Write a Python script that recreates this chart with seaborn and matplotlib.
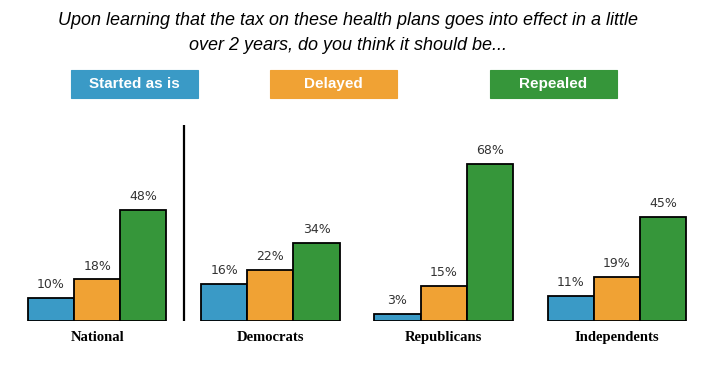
import numpy as np
import pandas as pd
import matplotlib
matplotlib.use("Agg")
import matplotlib.pyplot as plt
from matplotlib.patches import Rectangle
import seaborn as sns

# Data
groups = ["National", "Democrats", "Republicans", "Independents"]
responses = ["Started as is", "Delayed", "Repealed"]
started = [10, 16, 3, 11]
delayed = [18, 22, 15, 19]
repealed = [48, 34, 68, 45]

colors = ["#3a9ac6", "#f0a234", "#36963a"]
title = ("Upon learning that the tax on these health plans goes into effect in a little\n"
         "over 2 years, do you think it should be...")

rows = []
for resp, vals in zip(responses, [started, delayed, repealed]):
    for g, v in zip(groups, vals):
        rows.append({"group": g, "response": resp, "value": v})
df = pd.DataFrame(rows)

sns.set_style("white")
W, H = 714, 369
fig = plt.figure(figsize=(W / 100, H / 100), dpi=100)

# axes placed in pixel terms: baseline at y=321, xlim -0.5..3.5 spans 10.5..703.5
ax = fig.add_axes([10.5 / W, 48 / H, 693 / W, 196 / H])
sns.barplot(data=df, x="group", y="value", hue="response", palette=colors,
            hue_order=responses, order=groups, width=0.8, edgecolor="black",
            linewidth=1.3, legend=False, saturation=1, ax=ax)

ax.set_xlim(-0.5, 3.5)
ax.set_ylim(0, 85)
for cont in ax.containers:
    ax.bar_label(cont, labels=[f"{v:.0f}%" for v in cont.datavalues],
                 padding=5, fontsize=9, color="#333333", family="DejaVu Sans")

# separator between National and the party breakdown
ax.axvline(0.5, ymin=0, ymax=1, color="black", lw=1.6)

for s in ax.spines.values():
    s.set_visible(False)
ax.set_yticks([])
ax.set_xlabel("")
ax.set_ylabel("")
ax.tick_params(axis="x", length=0, pad=7)
ax.set_xticks(range(len(groups)))
ax.set_xticklabels(groups, fontsize=10.5, fontweight="bold", family="Liberation Serif",
                   color="black")

# title
fig.text(0.487, 1 - 33 / H, title, ha="center", va="center", fontsize=13,
         style="italic", family="Liberation Sans", linespacing=1.6, color="black")

# legend boxes
box_x = [71, 270, 490]
for x0, c, lab in zip(box_x, colors, responses):
    fig.patches.append(Rectangle((x0 / W, (H - 98) / H), 127 / W, 28 / H,
                                 transform=fig.transFigure, facecolor=c,
                                 edgecolor=c, lw=0.8, alpha=1))
    fig.text((x0 + 63.5) / W, (H - 84) / H, lab, ha="center", va="center",
             color="white", fontsize=11, fontweight="bold", family="Liberation Sans")

fig.savefig("out.png", dpi=100)
